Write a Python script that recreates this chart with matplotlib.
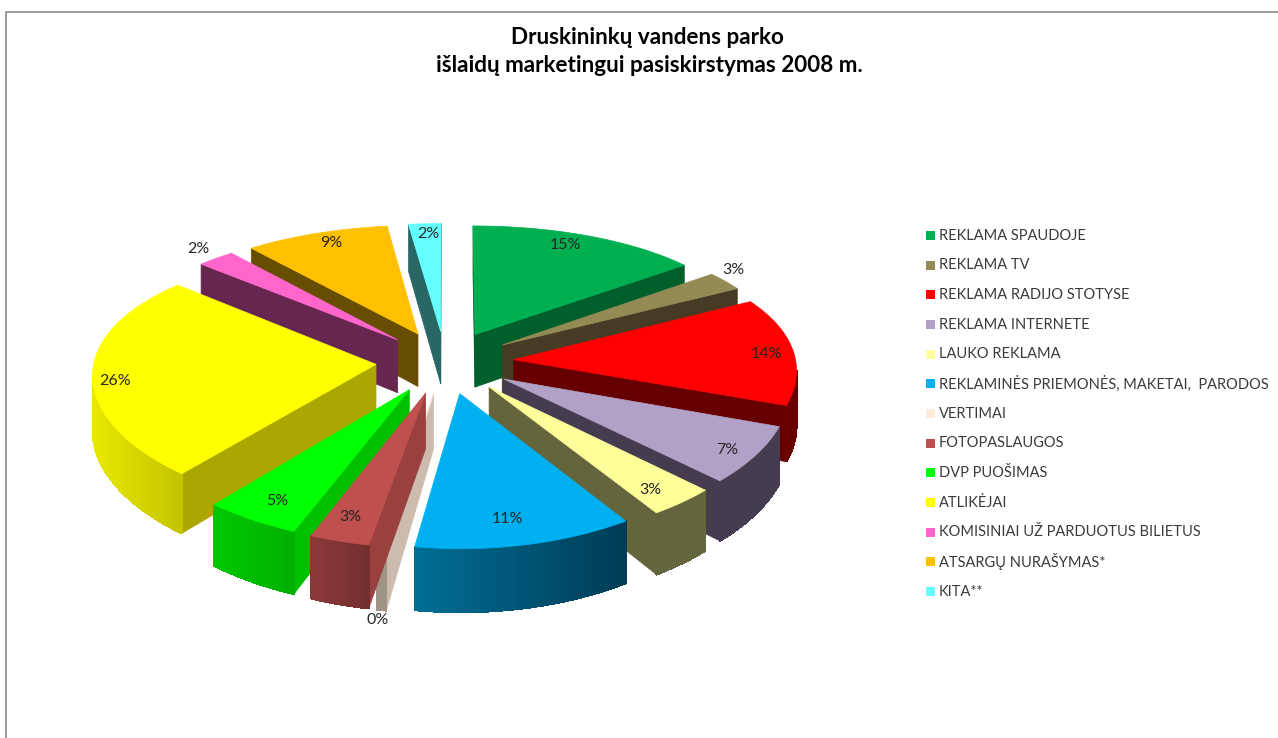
import numpy as np
import matplotlib
matplotlib.use("Agg")
import matplotlib.pyplot as plt
from matplotlib.patches import Polygon, Rectangle
from matplotlib.colors import to_rgb

categories = ["REKLAMA SPAUDOJE", "REKLAMA TV", "REKLAMA RADIJO STOTYSE", "REKLAMA INTERNETE",
              "LAUKO REKLAMA", "REKLAMINĖS PRIEMONĖS, MAKETAI,  PARODOS", "VERTIMAI", "FOTOPASLAUGOS",
              "DVP PUOŠIMAS", "ATLIKĖJAI", "KOMISINIAI UŽ PARDUOTUS BILIETUS", "ATSARGŲ NURAŠYMAS*", "KITA**"]
values = [14.5, 2.5, 13.6, 6.81, 3.49, 11.49, 0.49, 3.12, 5.0, 25.6, 2.4, 9.0, 2.0]
value_labels = ["15%", "3%", "14%", "7%", "3%", "11%", "0%", "3%", "5%", "26%", "2%", "9%", "2%"]

top_colors = ["#00B050", "#948A54", "#FF0000", "#B2A1C7", "#FFFF99", "#00B0F0", "#FDEADA",
              "#C0504D", "#00FF00", "#FFFF00", "#FF66CC", "#FFC000", "#66FFFF"]
cut_colors = ["#005F2B", "#463C26", "#660000", "#463C50", "#65653D", "#004E6E", "#CDBBAE",
              "#9A403E", "#00C000", "#ABA700", "#662650", "#664D00", "#296666"]
rim_left = ["#005F2B", "#463C26", "#800000", "#463C50", "#65653D", "#006E96", "#A09489",
            "#8A3938", "#00C800", "#E8E800", "#662650", "#664D00", "#296666"]
rim_right = ["#005F2B", "#463C26", "#660000", "#463C50", "#65653D", "#003C55", "#A09489",
             "#732F2E", "#00B000", "#C4C400", "#662650", "#664D00", "#296666"]
label_xy = [(565, 245), (733, 270), (766, 354), (727, 450), (650, 490), (507, 519), (378, 620),
            (350, 517), (277, 501), (115, 381), (198, 249), (331, 243), (428, 234)]

CX, CY = 445, 362
RX, RY = 282, 128
PX, PY = 0.07, 0.121
EXPLODE = 0.245
H = 54

def project(u, v, z=0.0):
    u, v = np.asarray(u, float), np.asarray(v, float)
    sy = 1 / (1 + PY * v)
    return np.column_stack([CX + RX * u / (1 + PX * v), CY - RY * v * sy + z * H * sy])

fig = plt.figure(figsize=(12.78, 7.38), dpi=100)
ax = fig.add_axes([0, 0, 1, 1])
ax.set_xlim(0, 1278)
ax.set_ylim(738, 0)
ax.axis("off")

ax.plot([1278, 6, 6], [12, 12, 738], color="#8C8C8C", lw=1.2, solid_joinstyle="miter")

fr = np.array(values, float) / sum(values)
edges = np.concatenate([[0], np.cumsum(fr)]) * 2 * np.pi

def slice_geometry(i):
    t = np.linspace(edges[i], edges[i + 1], max(3, int(fr[i] * 700)))
    mid = (edges[i] + edges[i + 1]) / 2
    ou, ov = EXPLODE * np.sin(mid), EXPLODE * np.cos(mid)
    return t, ou, ov, ou + np.sin(t), ov + np.cos(t)

def mid_depth(i):
    t, ou, ov, u, v = slice_geometry(i)
    return np.mean(np.r_[ov, v])

def area(p):
    x, y = p[:, 0], p[:, 1]
    return 0.5 * np.sum(x * np.roll(y, -1) - np.roll(x, -1) * y)

def draw_quad(p, c, z, aa=True):
    ax.add_patch(Polygon(p, closed=True, fc=c, ec=c, lw=0.5 if aa else 0.8, zorder=z, antialiased=aa))

order = sorted(range(len(values)), key=lambda k: -mid_depth(k))
for rank, i in enumerate(order):
    t, ou, ov, u, v = slice_geometry(i)
    z = 2 + rank
    tip_t = project([ou], [ov], 0)[0]
    tip_b = project([ou], [ov], 1)[0]
    top = project(u, v, 0)
    bot = project(u, v, 1)
    f1 = np.array([tip_t, top[0], bot[0], tip_b])
    f2 = np.array([tip_t, tip_b, bot[-1], top[-1]])
    for f in (f1, f2):
        if area(f) < 0:
            draw_quad(f, cut_colors[i], z)
    cl, cr = np.array(to_rgb(rim_left[i])), np.array(to_rgb(rim_right[i]))
    xmin, xmax = top[:, 0].min(), top[:, 0].max()
    for j in range(len(t) - 1):
        q = np.array([top[j], top[j + 1], bot[j + 1], bot[j]])
        if area(q) < 0:
            a = (top[j, 0] - xmin) / max(xmax - xmin, 1)
            draw_quad(q, tuple(cl + (cr - cl) * a), z, aa=False)
    ax.add_patch(Polygon(np.vstack([tip_t, top]), closed=True, fc=top_colors[i], ec=top_colors[i],
                         lw=0.5, zorder=z))

for s, (x, y) in zip(value_labels, label_xy):
    ax.text(x, y, s, ha="center", va="center", fontsize=11.5, color="#262626", family="Lato", zorder=50)

ax.text(647, 38, "Druskininkų vandens parko", ha="center", va="center", fontsize=16.2,
        fontweight="bold", family="Lato", color="black")
ax.text(649, 66, "išlaidų marketingui pasiskirstymas 2008 m.", ha="center", va="center", fontsize=16.2,
        fontweight="bold", family="Lato", color="black")

LEG_Y0, LEG_STEP = 236, 29.67
for k, (c, n) in enumerate(zip(top_colors, categories)):
    y = LEG_Y0 + k * LEG_STEP
    ax.add_patch(Rectangle((926, y - 5), 9, 9, fc=c, ec="none", zorder=60))
    ax.text(939, y - 0.5, n, ha="left", va="center", fontsize=10.55, color="#3A3A3A", family="Lato", zorder=60)

fig.savefig("out.png", dpi=100, facecolor="white")
